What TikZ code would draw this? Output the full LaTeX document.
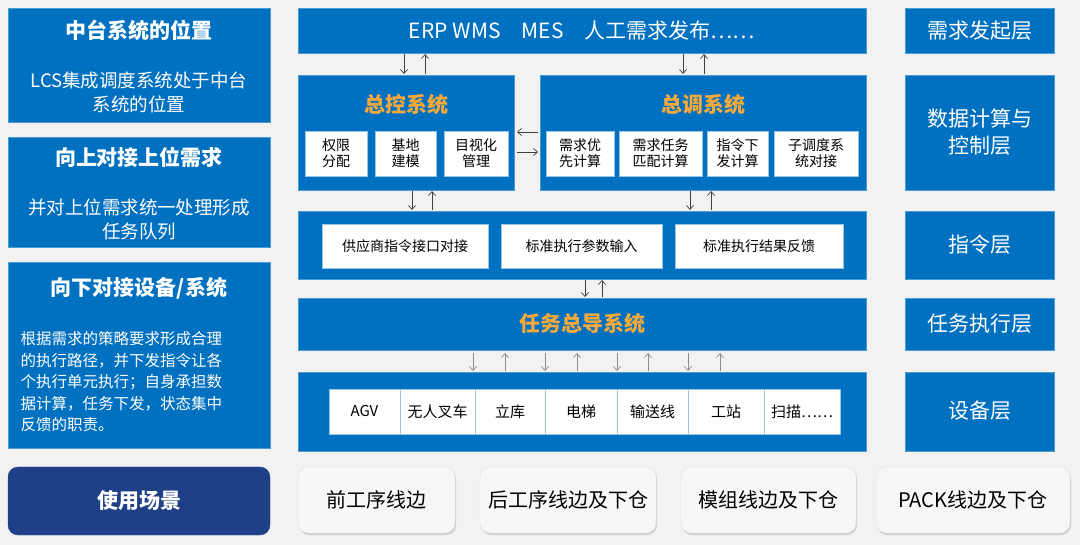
\documentclass[tikz,border=0pt]{standalone}
\usepackage{fontspec}
\setmainfont{Noto Sans CJK SC}
\usetikzlibrary{shadows,arrows.meta}
\definecolor{bl}{HTML}{0070C0}
\definecolor{nv}{HTML}{1F3F87}
\definecolor{og}{HTML}{F7A93B}
\definecolor{bg}{HTML}{F2F2F2}
\begin{document}
\begin{tikzpicture}[x=1pt,y=-1pt,
 blk/.style={fill=bl,draw=bl!70!white,line width=0.6pt},
 wb/.style={fill=white,draw=bl!40,line width=0.5pt},
 tt/.style={font=\fontsize{14}{16}\selectfont,align=center},
 arr/.style={-{Straight Barb[length=4pt,width=7pt]},line width=0.7pt,draw=black!75},
 garr/.style={-{Straight Barb[length=4pt,width=7pt]},line width=0.7pt,draw=black!45},
 rb/.style={rounded corners=10pt,fill=bg!60!white,draw=black!12,drop shadow={opacity=0.3,shadow xshift=1pt,shadow yshift=-2pt}}]
\fill[bg] (0,0) rectangle (1080,545);
\useasboundingbox (0,0) rectangle (1080,545);
% left
\draw[blk] (8,8) rectangle (270,122);
\node[white,font=\fontsize{21}{22}\bfseries\selectfont] (l1t) at (139,30) {中台系统的位置};
\node[white,font=\fontsize{18.5}{24}\selectfont,align=center] (l1b) at (139,92) {LCS集成调度系统处于中台\\系统的位置};
\draw[blk] (8,137) rectangle (270,247);
\node[white,font=\fontsize{21}{22}\bfseries\selectfont] (l2t) at (139,157) {向上对接上位需求};
\node[white,font=\fontsize{18.5}{24}\selectfont,align=center] (l2b) at (139,219) {并对上位需求统一处理形成\\任务队列};
\draw[blk] (8,262) rectangle (270,448);
\node[white,font=\fontsize{21}{22}\bfseries\selectfont] (l3t) at (139,288) {向下对接设备/系统};
\node[white,font=\fontsize{15.5}{21.5}\selectfont,align=left,anchor=west] (l3b) at (17,382) {根据需求的策略要求形成合理\\的执行路径，并下发指令让各\\个执行单元执行；自身承担数\\据计算，任务下发，状态集中\\反馈的职责。};
\draw[rounded corners=10pt,fill=nv,draw=nv] (8,467) rectangle (270,535);
\node[white,font=\fontsize{21}{22}\bfseries\selectfont] (use) at (139,501) {使用场景};
% middle
\draw[blk] (298,8) rectangle (866,53);
\node[white,font=\fontsize{21}{22}\selectfont] (top) at (582,31) {ERP WMS\quad MES\quad 人工需求发布……};
\draw[blk] (298,75) rectangle (514,190);
\node[og,font=\fontsize{21}{22}\bfseries\selectfont] (zk) at (406,105) {总控系统};
\draw[blk] (540,75) rectangle (866,190);
\node[og,font=\fontsize{21}{22}\bfseries\selectfont] (zd) at (703,105) {总调系统};
\foreach \a/\b/\t [count=\i] in {305/367/权限\\分配,375/436/基地\\建模,444/508/目视化\\管理,546/614/需求优\\先计算,619/702/需求任务\\匹配计算,707/768/指令下\\发计算,774/858/子调度系\\统对接}{
 \draw[wb] (\a,131) rectangle (\b,176);
 \node[tt] (s\i) at ({(\a+\b)/2},153.5) {\t};
}
\draw[blk] (298,211) rectangle (866,279);
\foreach \a/\b/\t [count=\i] in {322/488/供应商指令接口对接,501/662/标准执行参数输入,675/843/标准执行结果反馈}{
 \draw[wb] (\a,224) rectangle (\b,268);
 \node[tt] (c\i) at ({(\a+\b)/2},246) {\t};
}
\draw[blk] (298,298) rectangle (866,350);
\node[og,font=\fontsize{21}{22}\bfseries\selectfont] (rw) at (582,324) {任务总导系统};
\draw[blk] (298,372) rectangle (866,451);
\foreach \a/\b/\t [count=\i] in {329/400/AGV,400/475/无人叉车,475/545/立库,545/617/电梯,617/688/输送线,688/764/工站,764/840/扫描……}{
 \draw[wb] (\a,389) rectangle (\b,434);
 \node[font=\fontsize{15}{16}\selectfont] (d\i) at ({(\a+\b)/2},411.5) {\t};
}
% right
\draw[blk] (905,8) rectangle (1054,53);
\node[white,font=\fontsize{21}{22}\selectfont] (r1) at (979.5,31) {需求发起层};
\draw[blk] (905,75) rectangle (1054,190);
\node[white,font=\fontsize{21}{27}\selectfont,align=center] (r2) at (979.5,132) {数据计算与\\控制层};
\draw[blk] (905,211) rectangle (1054,279);
\node[white,font=\fontsize{21}{22}\selectfont] (r3) at (979.5,245) {指令层};
\draw[blk] (905,298) rectangle (1054,350);
\node[white,font=\fontsize{21}{22}\selectfont] (r4) at (979.5,324) {任务执行层};
\draw[blk] (905,372) rectangle (1054,451);
\node[white,font=\fontsize{21}{22}\selectfont] (r5) at (979.5,411) {设备层};
% bottom
\foreach \a/\b/\t [count=\i] in {298/455/前工序线边,480/656/后工序线边及下仓,681/856/模组线边及下仓,876/1070/PACK线边及下仓}{
 \draw[rb] (\a,467) rectangle (\b,533);
 \node[font=\fontsize{20}{22}\selectfont] (b\i) at ({(\a+\b)/2},500) {\t};
}
% arrows
\draw[arr] (404,54)--(404,74); \draw[arr] (425,74)--(425,54);
\draw[arr] (683,54)--(683,74); \draw[arr] (704,74)--(704,54);
\draw[arr] (538,132)--(517,132); \draw[arr] (517,152)--(538,152);
\draw[arr] (412,191)--(412,210); \draw[arr] (432,210)--(432,191);
\draw[arr] (690,191)--(690,210); \draw[arr] (711,210)--(711,191);
\draw[arr] (585,280)--(585,297); \draw[arr] (602,297)--(602,280);
\foreach \x in {473,545,617,688} \draw[garr] (\x,353)--(\x,371);
\foreach \x in {505,577,648,720} \draw[garr] (\x,371)--(\x,353);
\end{tikzpicture}
\end{document}
